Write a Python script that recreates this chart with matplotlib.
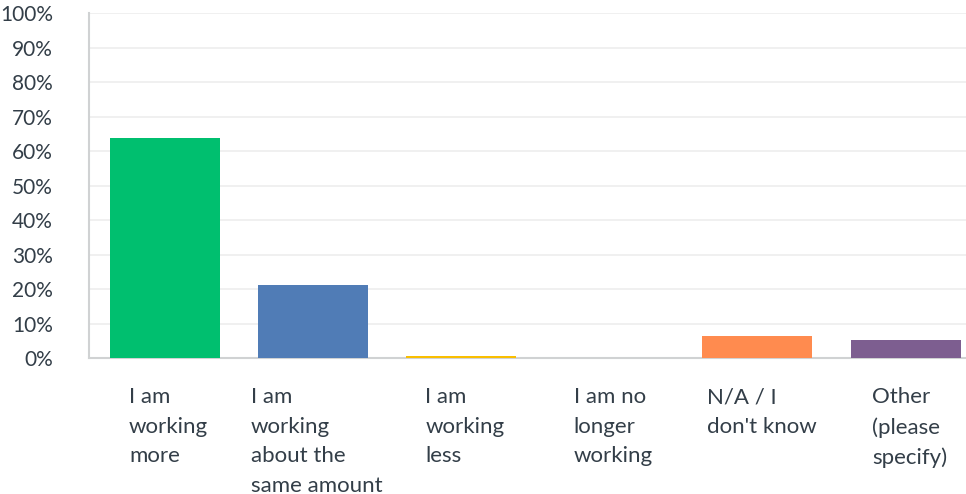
import matplotlib
matplotlib.use('Agg')
import matplotlib.pyplot as plt
import matplotlib.transforms as mtransforms

# Survey answers and share of respondents (%)
categories = [
    "I am\nworking\nmore",
    "I am\nworking\nabout the\nsame amount",
    "I am\nworking\nless",
    "I am no\nlonger\nworking",
    "N/A / I\ndon't know",
    "Other\n(please\nspecify)",
]
values = [63.8, 21.2, 0.7, 0.0, 6.45, 5.3]
colors = ["#00BF6F", "#507CB6", "#F9BE00", "#6BC8CD", "#FF8B4F", "#7D5E90"]
y_ticks = list(range(0, 101, 10))

plt.rcParams['font.family'] = ['Lato', 'DejaVu Sans']
text_color = "#333E48"

W, H = 966, 494
fig = plt.figure(figsize=(W / 100, H / 100), dpi=100)
left, right = 89, 89 + 6 * 148.2
top, base = 13, 358.3
ax = fig.add_axes([left / W, 1 - base / H, (right - left) / W, (base - top) / H])

bar_w = 110 / 148.2
x = list(range(len(categories)))
ax.bar(x, values, width=bar_w, color=colors, zorder=3)

ax.set_xlim(-0.51, len(categories) - 0.51)
ax.set_ylim(0, 100)
ax.set_yticks(y_ticks)
ax.set_yticklabels([f"{t}%" for t in y_ticks])
ax.set_xticks([])
ax.tick_params(axis='y', length=0, pad=26, labelsize=15, labelcolor=text_color)

ax.grid(axis='y', color="#EDEEEE", linewidth=1.2, zorder=0)
for side in ('top', 'right'):
    ax.spines[side].set_visible(False)
ax.spines['left'].set_color("#D0D2D3")
ax.spines['bottom'].set_color("#D0D2D3")
ax.spines['left'].set_linewidth(1.5)
ax.spines['bottom'].set_linewidth(1.5)

# Category labels: left-aligned lines in a block centred under each bar
trans = mtransforms.blended_transform_factory(ax.transData, fig.transFigure)
for i, label in enumerate(categories):
    ax.text(i + 4 / 148.2, 1 - 387 / H, label, transform=trans,
            ha='center', va='top', multialignment='left', fontsize=16,
            color=text_color, linespacing=1.6, clip_on=False)

fig.savefig('out.png', dpi=100)
